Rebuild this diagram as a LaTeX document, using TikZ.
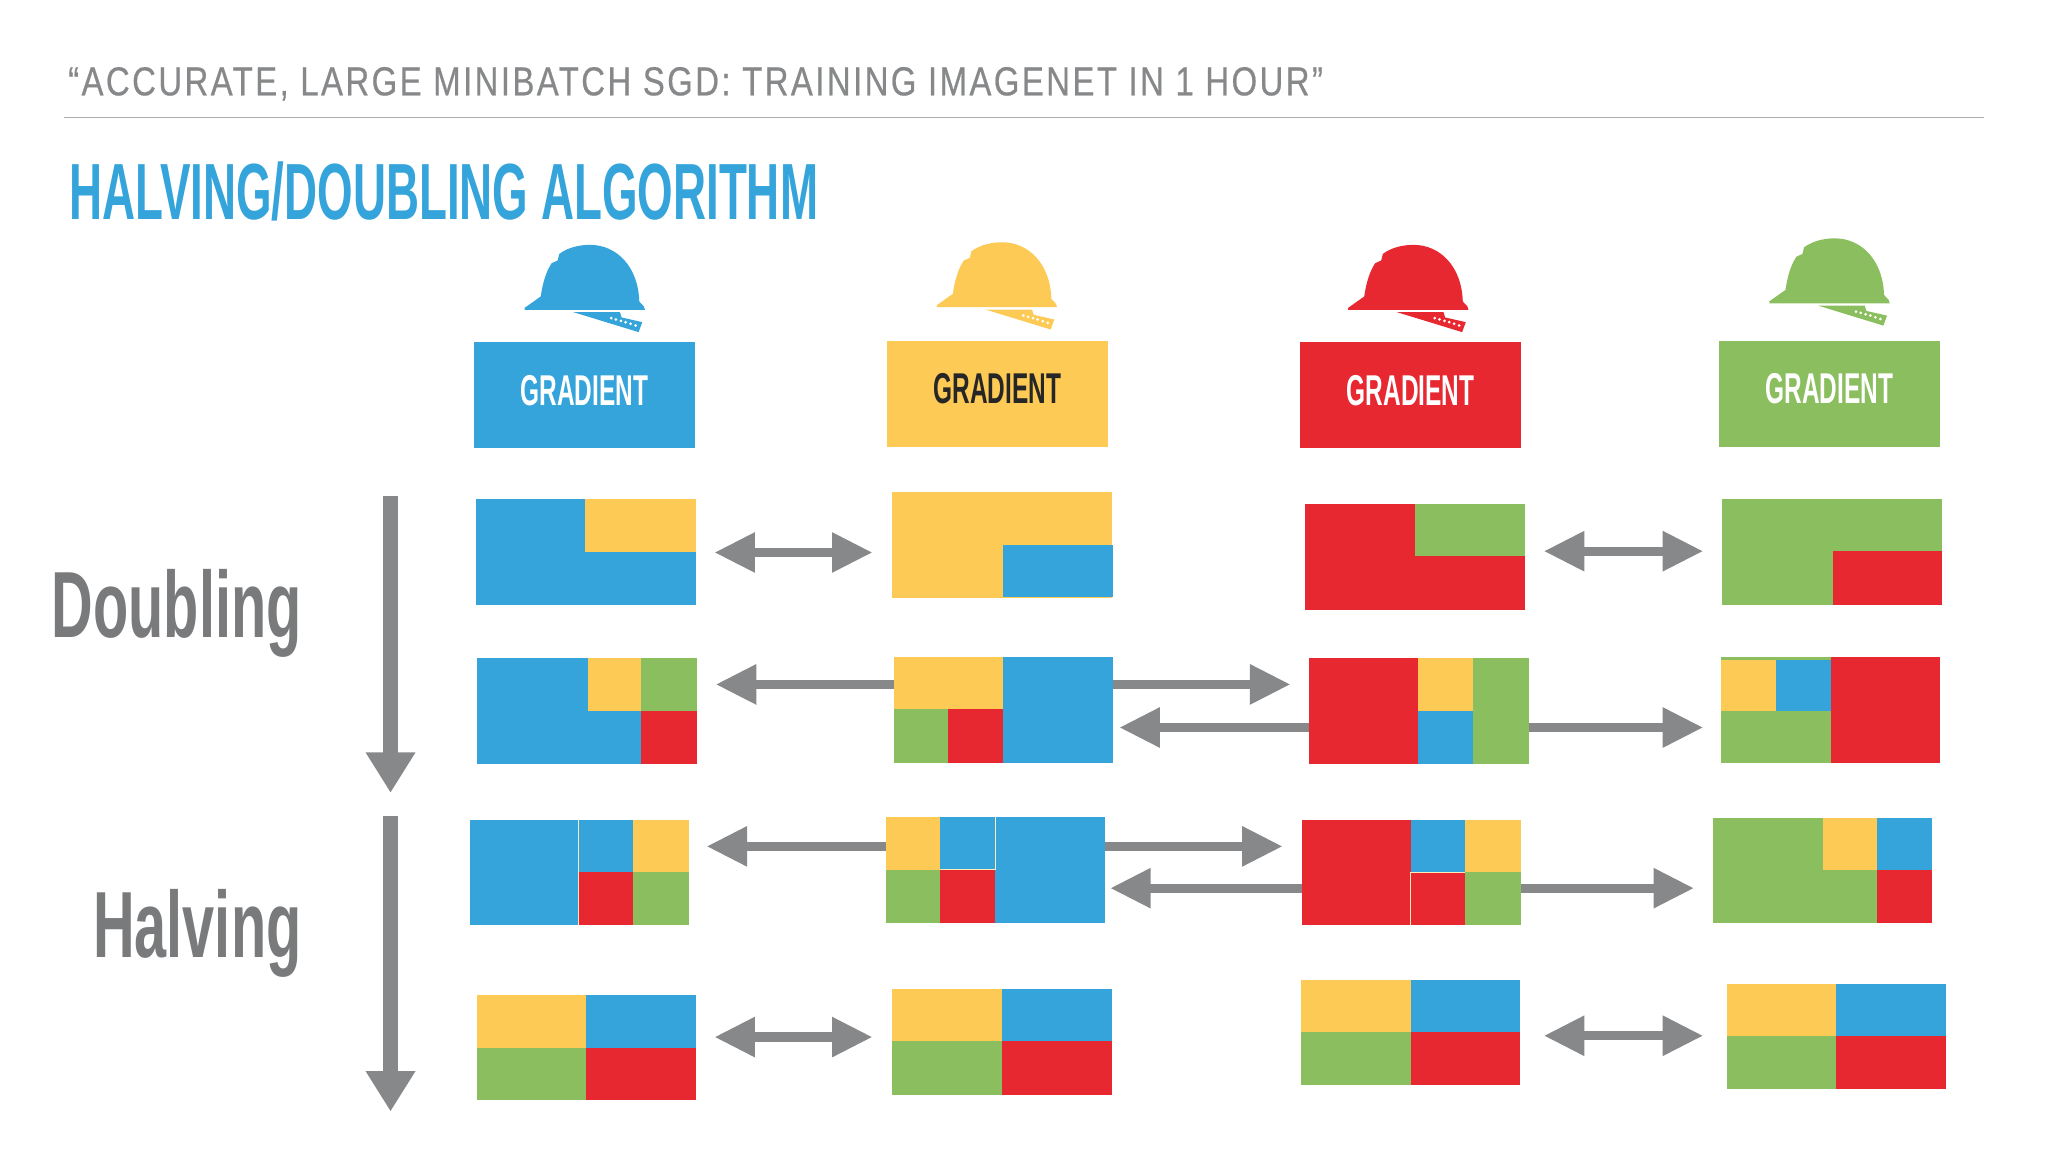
\documentclass[tikz,border=0pt]{standalone}
\usepackage{fontspec}
\setmainfont{Liberation Sans}
\newfontfamily\headfont[FakeStretch=.813,LetterSpace=6,FakeBold=.5]{Liberation Sans}
\newfontfamily\dinfont[FakeStretch=.567]{Liberation Sans Bold}
\newfontfamily\titlefont[FakeStretch=.574]{Liberation Sans Bold}
\newfontfamily\sidefont[FakeStretch=.613]{Liberation Sans Bold}
\usetikzlibrary{arrows.meta}
\definecolor{hblue}{HTML}{34A4DB}
\definecolor{hyellow}{HTML}{FDCA56}
\definecolor{hred}{HTML}{E72831}
\definecolor{hgreen}{HTML}{8BBE5E}
\definecolor{hgray}{HTML}{87888A}
\tikzset{
	cell/.style={inner sep=0pt,outer sep=0pt,minimum width=168pt,minimum height=81pt},
	seam/.style={white!60!hyellow,line width=.7pt},
	oneway/.style={hgray,line width=7pt,-{Triangle[length=31pt,width=29pt]}},
	twoway/.style={hgray,line width=7pt,{Triangle[length=31pt,width=29pt]}-{Triangle[length=31pt,width=29pt]}},
	phase/.style={hgray,line width=11pt,-{Triangle[length=31pt,width=36pt]}},
	side/.style={inner sep=0pt,anchor=base east,text=hgray!90!black,font=\sidefont\fontsize{72pt}{72pt}\selectfont},
	gradlabel/.style={cell,minimum width=169pt,text=white,text height=24pt,text depth=8.4pt,font=\dinfont\fontsize{33pt}{33pt}\selectfont}
}
% helmet with its ruler, (#1,#2) is the corner of the drawing
\newcommand{\hardhat}[3]{
	\begin{scope}[shift={(#1,#2)},x=.255pt,y=-.255pt]
		\fill[#3] (44,240)--(44,234)--(92,200) .. controls (98,160) and (108,125) .. (125,100)--(143,92)--(148,72)
		.. controls (175,52) and (210,45) .. (240,45) .. controls (320,45) and (385,110) .. (388,215)--(402,230)--(405,240)--cycle;
		\fill[#3] (190,247)--(330,247)--(335,263)--(397,277)--(386,307)--cycle;
		\foreach \dotx/\doty in {304/265,318/269,333/273,347/277,362/282,377/287}
			\fill[white] (\dotx,\doty) circle[radius=4.5];
	\end{scope}
}
\begin{document}
\begin{tikzpicture}[x=1pt,y=-1pt,>=stealth]
	\useasboundingbox (0,0) rectangle (1568,882);
	% head lines
	\node[inner sep=0pt,anchor=base west,text=hgray,font=\headfont\fontsize{31pt}{31pt}\selectfont] (paper) at (52,73) {“ACCURATE, LARGE MINIBATCH SGD: TRAINING IMAGENET IN 1 HOUR”};
	\draw[hgray!70,line width=1.4pt] (49,90)--(1519,90);
	\node[inner sep=0pt,anchor=base west,text=hblue,font=\titlefont\fontsize{61pt}{61pt}\selectfont] (title) at (53,168) {HALVING/DOUBLING ALGORITHM};
	\node[side] (doubling) at (231,488) {Doubling};
	\node[side] (halving) at (231,733) {Halving};
	% helmets and gradients
	\hardhat{390.5}{176}{hblue}
	\hardhat{706}{174}{hyellow}
	\hardhat{1021}{176}{hred}
	\hardhat{1343.5}{171}{hgreen}
	\node[gradlabel,fill=hblue] (gradblue) at (447.5,302.5) {GRADIENT};
	\node[gradlabel,fill=hyellow,text=black!85] (gradyellow) at (763.5,301.5) {GRADIENT};
	\node[gradlabel,fill=hred] (gradred) at (1080,302.5) {GRADIENT};
	\node[gradlabel,fill=hgreen] (gradgreen) at (1400.5,301.5) {GRADIENT};
	% first exchange
	\node[cell,fill=hblue] (onea) at (448.5,422.5) {};
	\fill[hyellow] (448,382) rectangle (532.5,423);
	\node[cell,fill=hyellow] (oneb) at (767,417) {};
	\fill[hblue] (768,417) rectangle (852,457);
	\node[cell,fill=hred] (onec) at (1083.5,426.5) {};
	\fill[hgreen] (1083,386) rectangle (1167.5,426);
	\node[cell,fill=hgreen] (oned) at (1402.5,422.5) {};
	\fill[hred] (1403,422) rectangle (1487,463);
	% second exchange
	\node[cell,fill=hblue] (twoa) at (449.5,544.5) {};
	\fill[hyellow] (450,504) rectangle (491,544);
	\fill[hgreen] (491,504) rectangle (533.5,544);
	\fill[hred] (491,544) rectangle (533.5,585);
	\node[cell,fill=hblue] (twob) at (768.5,543.5) {};
	\fill[hyellow] (684.5,503) rectangle (768,543);
	\fill[hgreen] (684.5,543) rectangle (726,584);
	\fill[hred] (726,543) rectangle (768,584);
	\node[cell,fill=hred] (twoc) at (1086.5,544.5) {};
	\fill[hyellow] (1086,504) rectangle (1128,544);
	\fill[hblue] (1086,544) rectangle (1128,585);
	\fill[hgreen] (1128,504) rectangle (1170.5,585);
	\node[cell,fill=hred] (twod) at (1401.5,543.5) {};
	\fill[hgreen] (1317.5,503) rectangle (1402,584);
	\fill[hyellow] (1318,505) rectangle (1360,544);
	\fill[hblue] (1360,505) rectangle (1402,544);
	% third exchange
	\node[cell,fill=hblue] (threea) at (443.5,668) {};
	\fill[hyellow] (485,627.5) rectangle (527.5,668);
	\fill[hred] (443,668) rectangle (485,708.5);
	\fill[hgreen] (485,668) rectangle (527.5,708.5);
	\draw[seam] (443,627.5)--(443,708.5);
	\node[cell,fill=hblue] (threeb) at (762,666) {};
	\fill[hyellow] (678,625.5) rectangle (720,666);
	\fill[hgreen] (678,666) rectangle (720,706.5);
	\fill[hred] (720,666) rectangle (762,706.5);
	\draw[seam] (720,666)--(762,666)--(762,625.5);
	\node[cell,fill=hred] (threec) at (1080.5,668) {};
	\fill[hblue] (1080,627.5) rectangle (1122,668);
	\fill[hyellow] (1122,627.5) rectangle (1164.5,668);
	\fill[hgreen] (1122,668) rectangle (1164.5,708.5);
	\draw[seam] (1080,668)--(1122,668) (1080,668)--(1080,708.5);
	\node[cell,fill=hgreen] (threed) at (1395.5,666.5) {};
	\fill[hyellow] (1396,626) rectangle (1437,666);
	\fill[hblue] (1437,626) rectangle (1479.5,666);
	\fill[hred] (1437,666) rectangle (1479.5,707);
	% last exchange
	\node[cell,fill=hblue] (foura) at (449,802) {};
	\fill[hyellow] (365,761.5) rectangle (449,802);
	\fill[hgreen] (365,802) rectangle (449,842.5);
	\fill[hred] (449,802) rectangle (533,842.5);
	\node[cell,fill=hblue] (fourb) at (767,797.5) {};
	\fill[hyellow] (683,757) rectangle (767,797);
	\fill[hgreen] (683,797) rectangle (767,838);
	\fill[hred] (767,797) rectangle (851,838);
	\node[cell,fill=hblue] (fourc) at (1080,790.5) {};
	\fill[hyellow] (996,750) rectangle (1080,790);
	\fill[hgreen] (996,790) rectangle (1080,831);
	\fill[hred] (1080,790) rectangle (1164,831);
	\node[cell,fill=hblue] (fourd) at (1406,793.5) {};
	\fill[hyellow] (1322,753) rectangle (1406,793);
	\fill[hgreen] (1322,793) rectangle (1406,834);
	\fill[hred] (1406,793) rectangle (1490,834);
	% arrows
	\coordinate (dtop) at (299,380);
	\coordinate (dend) at (299,607);
	\coordinate (htop) at (299,625);
	\coordinate (hend) at (299,851);
	\draw[phase] (dtop)--(dend);
	\draw[phase] (htop)--(hend);
	\coordinate (oneab) at (547,423);
	\coordinate (oneba) at (668,423);
	\coordinate (onecd) at (1182,422);
	\coordinate (onedc) at (1304,422);
	\draw[twoway] (oneab)--(oneba);
	\draw[twoway] (onecd)--(onedc);
	\coordinate (twotoa) at (548,524);
	\coordinate (twotoc) at (988,524);
	\coordinate (twotob) at (857,557);
	\coordinate (twotod) at (1304,557);
	\draw[oneway] (twotoa -| twob.west)--(twotoa);
	\draw[oneway] (twotoc -| twob.east)--(twotoc);
	\draw[oneway] (twotob -| twoc.west)--(twotob);
	\draw[oneway] (twotod -| twoc.east)--(twotod);
	\coordinate (threetoa) at (541,648);
	\coordinate (threetoc) at (982,648);
	\coordinate (threetob) at (850,680);
	\coordinate (threetod) at (1297,680);
	\draw[oneway] (threetoa -| threeb.west)--(threetoa);
	\draw[oneway] (threetoc -| threeb.east)--(threetoc);
	\draw[oneway] (threetob -| threec.west)--(threetob);
	\draw[oneway] (threetod -| threec.east)--(threetod);
	\coordinate (fourab) at (547,794);
	\coordinate (fourba) at (668,794);
	\coordinate (fourcd) at (1182,793);
	\coordinate (fourdc) at (1304,793);
	\draw[twoway] (fourab)--(fourba);
	\draw[twoway] (fourcd)--(fourdc);
\end{tikzpicture}
\end{document}
